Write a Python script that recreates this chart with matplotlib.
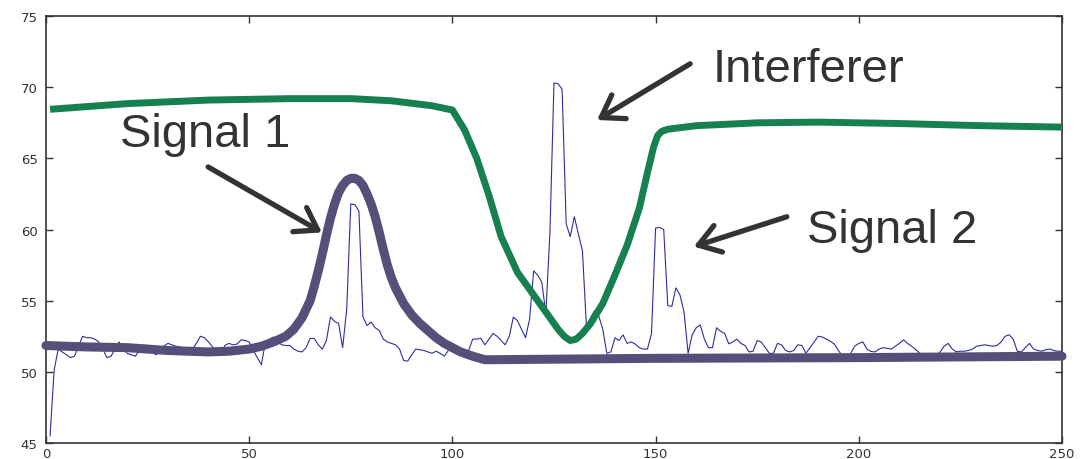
import numpy as np
import matplotlib
matplotlib.use('Agg')
import matplotlib.pyplot as plt

# measured trace, one sample per x = 1..250
noisy_x = np.arange(1, 251)
noisy_y = [
    45.5, 50.1, 51.6, 51.4, 51.2, 51.0, 51.1, 51.8, 52.5, 52.4,
    52.4, 52.3, 52.1, 51.6, 51.0, 51.1, 51.6, 52.1, 51.6, 51.3,
    51.2, 51.1, 51.5, 51.9, 51.8, 51.5, 51.2, 51.4, 51.8, 52.0,
    51.9, 51.8, 51.75, 51.6, 51.55, 51.6, 52.0, 52.5, 52.4, 52.1,
    51.75, 51.4, 51.2, 51.85, 52.0, 51.9, 51.95, 52.25, 52.2, 52.1,
    51.5, 51.0, 50.5, 52.1, 52.3, 52.45, 52.1, 51.9, 51.85, 51.85,
    51.6, 51.45, 51.4, 51.7, 52.35, 52.35, 51.9, 51.6, 52.2, 53.85,
    53.55, 53.4, 51.7, 54.4, 61.8, 61.75, 61.3, 53.85, 53.25, 53.5,
    53.1, 52.9, 52.3, 52.1, 52.0, 51.9, 51.6, 50.8, 50.75, 51.2,
    51.6, 51.55, 51.5, 51.4, 51.3, 51.45, 51.3, 51.1, 51.5, 51.6,
    51.85, 51.6, 51.5, 51.5, 52.3, 52.3, 52.35, 51.9, 52.3, 52.7,
    52.5, 52.2, 51.9, 52.5, 53.85, 53.6, 53.0, 52.4, 53.7, 57.1,
    56.8, 56.3, 54.1, 59.8, 70.3, 70.25, 69.85, 60.4, 59.5, 60.9,
    59.7, 58.5, 53.1, 53.8, 54.3, 53.95, 53.0, 51.3, 51.4, 52.4,
    52.2, 52.6, 52.0, 52.1, 51.95, 51.7, 51.6, 51.6, 52.7, 60.1,
    60.15, 60.0, 54.65, 54.6, 55.9, 55.4, 54.2, 51.3, 52.6, 53.1,
    53.3, 52.3, 51.7, 51.7, 53.1, 52.85, 52.7, 51.97, 52.1, 52.3,
    52.0, 51.85, 51.4, 51.45, 52.2, 52.1, 51.7, 51.3, 51.3, 52.0,
    51.9, 51.5, 51.4, 51.5, 51.9, 51.85, 51.3, 51.7, 52.1, 52.5,
    52.45, 52.3, 52.15, 51.95, 51.5, 51.1, 51.0, 51.3, 51.8, 52.0,
    52.1, 51.6, 51.43, 51.4, 51.6, 51.7, 51.65, 51.6, 51.8, 52.0,
    52.25, 52.0, 51.8, 51.57, 51.3, 51.0, 50.95, 51.0, 51.1, 51.4,
    51.8, 52.0, 51.6, 51.4, 51.45, 51.45, 51.5, 51.6, 51.8, 51.85,
    51.9, 51.85, 51.8, 51.85, 52.1, 52.5, 52.6, 52.3, 51.45, 51.4,
    51.7, 52.0, 51.6, 51.5, 51.45, 51.55, 51.6, 51.5, 51.45, 51.45,
]

# fitted signal 1
sig1_x = [0, 10, 20, 30, 40, 45, 50, 53, 56, 59, 61, 63, 65, 66, 67, 68, 69,
          70, 71, 72, 73, 74, 75, 76, 77, 78, 79, 80, 81, 82, 83, 84, 85, 86,
          88, 90, 92, 94, 96, 98, 100, 102, 105, 108, 150, 200, 250]
sig1_y = [51.85, 51.75, 51.7, 51.5, 51.4, 51.45, 51.6, 51.8, 52.1, 52.5, 53.0,
          53.8, 55.0, 56.0, 57.1, 58.3, 59.6, 60.8, 61.8, 62.6, 63.1, 63.45,
          63.6, 63.6, 63.45, 63.1, 62.5, 61.8, 60.9, 59.8, 58.6, 57.5, 56.6,
          55.9, 54.8, 54.0, 53.4, 52.9, 52.4, 52.0, 51.7, 51.4, 51.1, 50.85,
          50.95, 51.0, 51.1]

# fitted interferer (thick green curve)
intf_x = [1, 20, 40, 60, 75, 85, 95, 100, 103, 106, 109, 112, 116, 120, 124,
          126, 127.5, 129, 130.5, 132, 134, 137, 140, 143, 146, 148, 149.5,
          150.5, 151.5, 153, 160, 175, 190, 210, 230, 250]
intf_y = [68.45, 68.85, 69.1, 69.2, 69.2, 69.05, 68.7, 68.4, 67.0, 65.0, 62.4,
          59.5, 57.0, 55.4, 53.8, 53.0, 52.5, 52.2, 52.3, 52.7, 53.4, 54.8,
          56.8, 58.9, 61.5, 64.0, 65.8, 66.6, 66.9, 67.05, 67.3, 67.5, 67.55,
          67.45, 67.3, 67.2]

labels = ['Signal 1', 'Interferer', 'Signal 2']
label_pos = [(39.1, 65.9), (187.6, 70.45), (208.3, 59.1)]
arrow_tail = [(39.9, 64.4), (158.5, 71.65), (182.3, 60.9)]
arrow_head = [(67.9, 59.8), (135.6, 67.7), (159.4, 58.8)]

fig = plt.figure(figsize=(10.82, 4.6), dpi=100)
ax = fig.add_axes([0.0425, 0.0348, 0.939, 0.928])

ax.plot(noisy_x, noisy_y, color='#2e2ea0', lw=0.8, zorder=2)
ax.plot(intf_x, intf_y, color='#178050', lw=5.0, solid_capstyle='butt',
        solid_joinstyle='round', zorder=3)
ax.plot(sig1_x, sig1_y, color='#55507a', lw=6.5, solid_capstyle='round',
        solid_joinstyle='round', clip_on=False, zorder=4)

for txt, pos, tail, head in zip(labels, label_pos, arrow_tail, arrow_head):
    ax.text(pos[0], pos[1], txt, ha='center', va='baseline',
            fontsize=34, family='Liberation Sans', color='#333333')
    ax.annotate('', xy=head, xytext=tail,
                arrowprops=dict(arrowstyle='->,head_length=0.75,head_width=0.5',
                                lw=3.8, color='#333333', mutation_scale=20,
                                shrinkA=0, shrinkB=0, capstyle='round'))

ax.set_xlim(0, 250)
ax.set_ylim(45, 75)
ax.set_xticks(np.arange(0, 251, 50))
ax.set_yticks(np.arange(45, 76, 5))
ax.tick_params(direction='in', length=5, width=1, colors='#333333',
               top=True, right=True, labelsize=9.5, pad=3)
ax.tick_params(axis='y', pad=6)
for s in ax.spines.values():
    s.set_color('#333333')
    s.set_linewidth(1.2)

fig.savefig('out.png', dpi=100)
